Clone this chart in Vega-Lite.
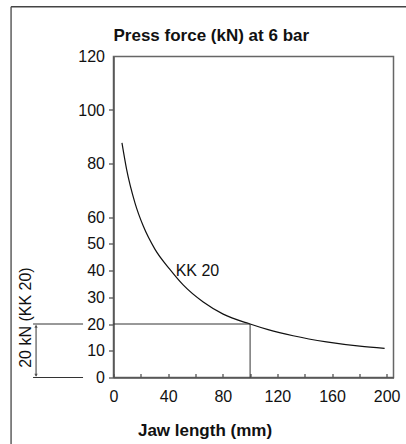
{
  "$schema": "https://vega.github.io/schema/vega-lite/v6.json",
  "autosize": "none",
  "width": 280,
  "height": 321,
  "padding": {"left": 113.5, "top": 56.5, "right": 12.5, "bottom": 66.5},
  "background": "white",
  "title": {
    "text": "Press force (kN) at 6 bar",
    "anchor": "start",
    "frame": "group",
    "fontSize": 17,
    "fontWeight": "bold",
    "font": "Liberation Sans",
    "color": "#111",
    "baseline": "alphabetic",
    "offset": -52
  },
  "config": {
    "font": "Liberation Sans",
    "view": {"stroke": "#666", "strokeWidth": 1.5},
    "axis": {"grid": false, "labelFont": "Liberation Sans", "labelColor": "#111", "domainColor": "#555", "domainWidth": 1.5, "tickColor": "#555", "tickWidth": 1.3, "labelOverlap": false}
  },
  "layer": [
    {
      "data": {"values": [
        {"x": 6.2, "y": 87.7},
        {"x": 9.6, "y": 77.8},
        {"x": 15.7, "y": 65.3},
        {"x": 21.8, "y": 56.6},
        {"x": 30.3, "y": 48.0},
        {"x": 41.3, "y": 40.4},
        {"x": 51, "y": 34.6},
        {"x": 65.7, "y": 28.2},
        {"x": 80.3, "y": 23.7},
        {"x": 100, "y": 20},
        {"x": 113.2, "y": 17.9},
        {"x": 131.5, "y": 15.6},
        {"x": 155.9, "y": 13.3},
        {"x": 180.3, "y": 11.7},
        {"x": 198.5, "y": 10.9}
      ]},
      "mark": {"type": "line", "interpolate": "monotone", "color": "#111", "strokeWidth": 1.2},
      "encoding": {
        "x": {"field": "x", "type": "quantitative", "scale": {"domain": [0, 205], "nice": false},
          "axis": {"title": "Jaw length (mm)", "titleFontSize": 17, "titleFontWeight": "bold", "titleColor": "#111", "titleX": 91, "titleY": 58, "titleBaseline": "alphabetic",
            "values": [0, 20, 40, 60, 80, 100, 120, 140, 160, 180, 200], "tickCount": 30, "labelExpr": "datum.value % 40 == 0 ? datum.label : ''",
            "tickSize": -4, "labelPadding": 14.5, "labelFontSize": 16, "labelFlush": false, "labelOverlap": false}},
        "y": {"field": "y", "type": "quantitative", "scale": {"domain": [0, 120], "nice": false},
          "axis": {"title": null, "values": [0, 10, 20, 30, 40, 50, 60, 80, 100, 120], "tickCount": 30, "tickSize": 5, "labelPadding": 4, "labelFontSize": 16,
            "labelOverlap": false, "labelFlush": false,
            "tickOpacity": {"condition": {"test": "datum.value == 120", "value": 0}, "value": 1}}}
      }
    },
    {
      "data": {"values": [
        {"x": 0, "x2": 100, "y": 20, "y2": 20},
        {"x": 100, "x2": 100, "y": 0, "y2": 20},
        {"x": -58.9, "x2": -22.3, "y": 20, "y2": 20},
        {"x": -58.9, "x2": -22.3, "y": 0, "y2": 0},
        {"x": -56.7, "x2": -56.7, "y": 0.6, "y2": 19.4}
      ]},
      "mark": {"type": "rule", "color": "#333", "strokeWidth": 1},
      "encoding": {
        "x": {"field": "x", "type": "quantitative", "scale": {"domain": [0, 205], "nice": false}},
        "x2": {"field": "x2"},
        "y": {"field": "y", "type": "quantitative", "scale": {"domain": [0, 120], "nice": false}},
        "y2": {"field": "y2"}
      }
    },
    {
      "data": {"values": [
        {"x": -75, "x2": -75, "y": -35, "y2": 138.6},
        {"x": -75, "x2": 225, "y": 138.6, "y2": 138.6}
      ]},
      "mark": {"type": "rule", "color": "#444", "strokeWidth": 1.3},
      "encoding": {
        "x": {"field": "x", "type": "quantitative", "scale": {"domain": [0, 205], "nice": false}},
        "x2": {"field": "x2"},
        "y": {"field": "y", "type": "quantitative", "scale": {"domain": [0, 120], "nice": false}},
        "y2": {"field": "y2"}
      }
    },
    {
      "data": {"values": [
        {"x": -56.7, "y": 19.2, "shape": "triangle-up"},
        {"x": -56.7, "y": 0.8, "shape": "triangle-down"}
      ]},
      "mark": {"type": "point", "filled": true, "color": "#333", "size": 12},
      "encoding": {
        "x": {"field": "x", "type": "quantitative", "scale": {"domain": [0, 205], "nice": false}},
        "y": {"field": "y", "type": "quantitative", "scale": {"domain": [0, 120], "nice": false}},
        "shape": {"field": "shape", "type": "nominal", "scale": null}
      }
    },
    {
      "data": {"values": [
        {"x": 45.5, "y": 40, "label": "KK 20"}
      ]},
      "mark": {"type": "text", "align": "left", "baseline": "middle", "fontSize": 16, "color": "#111"},
      "encoding": {
        "x": {"field": "x", "type": "quantitative", "scale": {"domain": [0, 205], "nice": false}},
        "y": {"field": "y", "type": "quantitative", "scale": {"domain": [0, 120], "nice": false}},
        "text": {"field": "label"}
      }
    },
    {
      "data": {"values": [
        {"x": -64, "y": 22.4, "label": "20 kN (KK 20)"}
      ]},
      "mark": {"type": "text", "align": "center", "baseline": "middle", "fontSize": 16, "angle": 270, "color": "#111"},
      "encoding": {
        "x": {"field": "x", "type": "quantitative", "scale": {"domain": [0, 205], "nice": false}},
        "y": {"field": "y", "type": "quantitative", "scale": {"domain": [0, 120], "nice": false}},
        "text": {"field": "label"}
      }
    }
  ]
}
